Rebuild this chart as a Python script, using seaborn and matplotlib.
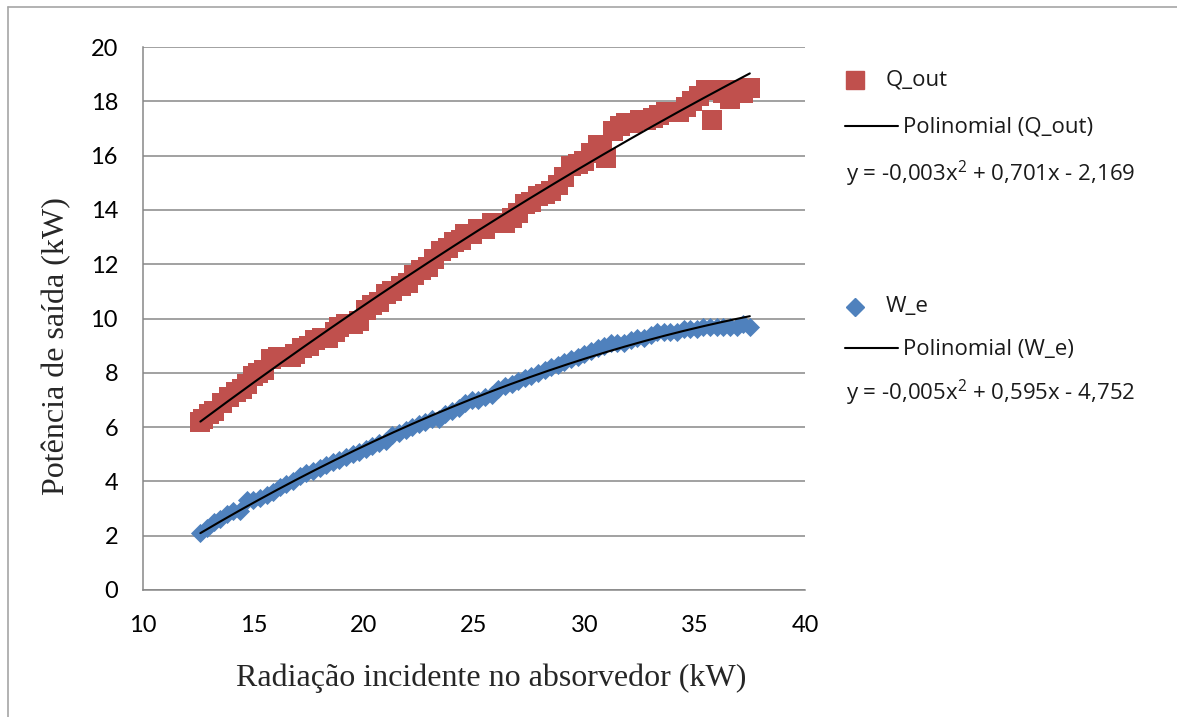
"""
plot.py
Potência de saída vs radiação incidente no absorvedor (Q_out e W_e, com ajuste polinomial).
"""

import matplotlib
matplotlib.use("Agg")
import matplotlib.pyplot as plt
from matplotlib.lines import Line2D
import seaborn as sns
import numpy as np

# Q_out (kW) vs radiação incidente (kW)
q_x = [12.6, 12.7, 13.0, 13.2, 13.6, 13.9, 14.2, 14.5, 14.7, 15.0, 15.2, 15.5,
       15.8, 16.1, 16.4, 16.7, 16.9, 17.2, 17.5, 17.8, 18.1, 18.4, 18.7, 18.9,
       19.2, 19.5, 19.8, 20.1, 20.4, 20.7, 21.0, 21.3, 21.7, 22.0, 22.3, 22.6,
       22.9, 23.2, 23.5, 23.8, 24.1, 24.4, 24.6, 24.9, 25.2, 25.5, 25.8, 26.1,
       26.4, 26.7, 27.0, 27.3, 27.6, 27.9, 28.2, 28.5, 28.8, 29.1, 29.4, 29.7,
       30.0, 30.3, 30.6, 30.8, 31.0, 31.3, 31.6, 31.9, 32.2, 32.5, 32.8, 33.1,
       33.4, 33.7, 34.0, 34.3, 34.6, 34.9, 35.2, 35.5, 35.8, 36.0, 36.3, 36.6,
       36.9, 37.2, 37.5]
q_y = [6.2, 6.3, 6.5, 6.6, 6.9, 7.1, 7.3, 7.4, 7.6, 7.9, 8.0, 8.1,
       8.5, 8.6, 8.6, 8.6, 8.7, 8.9, 9.0, 9.2, 9.3, 9.3, 9.5, 9.7,
       9.8, 9.8, 9.9, 10.3, 10.5, 10.6, 10.9, 11.0, 11.2, 11.3, 11.6, 11.8,
       11.9, 12.2, 12.5, 12.6, 12.8, 12.9, 13.1, 13.1, 13.3, 13.3, 13.5, 13.5,
       13.5, 13.7, 13.9, 14.2, 14.3, 14.5, 14.6, 14.7, 14.9, 15.2, 15.6, 15.7,
       15.8, 16.1, 16.4, 16.4, 15.9, 16.9, 17.1, 17.2, 17.2, 17.3, 17.3, 17.4,
       17.5, 17.6, 17.6, 17.6, 17.8, 18.0, 18.2, 18.4, 17.3, 18.4, 18.3, 18.1,
       18.4, 18.3, 18.5]

# W_e (kW) vs radiação incidente (kW)
w_x = [12.6, 12.9, 13.2, 13.5, 13.8, 14.1, 14.4, 14.7, 15.0, 15.3, 15.6, 15.9,
       16.2, 16.5, 16.8, 17.1, 17.4, 17.7, 18.0, 18.3, 18.6, 18.9, 19.2, 19.5,
       19.8, 20.1, 20.4, 20.7, 21.0, 21.3, 21.6, 21.9, 22.2, 22.5, 22.8, 23.1,
       23.4, 23.7, 24.0, 24.3, 24.6, 24.9, 25.2, 25.5, 25.8, 26.1, 26.4, 26.7,
       27.0, 27.3, 27.6, 27.9, 28.2, 28.5, 28.8, 29.1, 29.4, 29.7, 30.0, 30.3,
       30.6, 30.9, 31.2, 31.5, 31.8, 32.1, 32.4, 32.7, 33.0, 33.3, 33.6, 33.9,
       34.2, 34.5, 34.8, 35.1, 35.4, 35.7, 36.0, 36.3, 36.6, 36.9, 37.2, 37.5]
w_y = [2.1, 2.3, 2.5, 2.6, 2.8, 2.9, 2.9, 3.3, 3.3, 3.4, 3.5, 3.6,
       3.8, 3.9, 4.0, 4.2, 4.3, 4.4, 4.5, 4.6, 4.7, 4.8, 4.9, 5.0,
       5.1, 5.2, 5.3, 5.4, 5.5, 5.7, 5.8, 5.9, 6.0, 6.1, 6.2, 6.3,
       6.3, 6.5, 6.6, 6.7, 6.9, 7.0, 7.0, 7.1, 7.2, 7.4, 7.5, 7.6,
       7.7, 7.8, 7.9, 8.0, 8.1, 8.2, 8.3, 8.4, 8.5, 8.6, 8.7, 8.8,
       8.9, 9.0, 9.1, 9.1, 9.1, 9.2, 9.3, 9.3, 9.4, 9.5, 9.5, 9.5,
       9.5, 9.6, 9.6, 9.6, 9.7, 9.7, 9.7, 9.7, 9.7, 9.7, 9.8, 9.7]

x_ticks = [10, 15, 20, 25, 30, 35, 40]
y_ticks = [0, 2, 4, 6, 8, 10, 12, 14, 16, 18, 20]

eq_q = r"y = -0,003x$^2$ + 0,701x - 2,169"
eq_w = r"y = -0,005x$^2$ + 0,595x - 4,752"

RED = "#C0504D"
BLUE = "#4F81BD"
GRID = "#878787"

W, H = 1177, 717


def px(x, y):
    """pixel position -> figure fraction"""
    return x / W, 1 - y / H


sns.set_style("white")
plt.rcParams["font.family"] = ["Lato", "DejaVu Sans"]
plt.rcParams["mathtext.fontset"] = "custom"
plt.rcParams["mathtext.rm"] = "Open Sans"
plt.rcParams["mathtext.it"] = "Open Sans"
plt.rcParams["mathtext.default"] = "rm"

fig = plt.figure(figsize=(W / 100, H / 100), dpi=100)
ax = fig.add_axes([143 / W, 1 - 590 / H, (805 - 143) / W, (590 - 47) / H])

sns.scatterplot(x=q_x, y=q_y, marker="s", s=200, color=RED, linewidth=0,
                ax=ax, zorder=3)
sns.scatterplot(x=w_x, y=w_y, marker="D", s=95, color=BLUE, linewidth=0,
                ax=ax, zorder=4)

# trend lines (2nd order)
for xs, ys in [(q_x, q_y), (w_x, w_y)]:
    coef = np.polyfit(xs, ys, 2)
    xx = np.linspace(min(xs), max(xs), 200)
    sns.lineplot(x=xx, y=np.polyval(coef, xx), color="black", linewidth=1.5,
                 ax=ax, zorder=5)

ax.set_xlim(10, 40)
ax.set_ylim(0, 20)
ax.set_xticks(x_ticks)
ax.set_yticks(y_ticks)
ax.yaxis.grid(True, color=GRID, linewidth=1.1)
ax.set_axisbelow(True)
for side in ["top", "right"]:
    ax.spines[side].set_visible(False)
for side in ["left", "bottom"]:
    ax.spines[side].set_color(GRID)
    ax.spines[side].set_linewidth(1.1)
ax.tick_params(axis="both", direction="out", length=5, width=1.1, color=GRID,
               pad=13, labelsize=17, labelcolor="black")

ax.set_xlabel("Radiação incidente no absorvedor (kW)", family="Liberation Serif",
              fontsize=23, labelpad=20)
ax.set_ylabel("Potência de saída (kW)", family="Liberation Serif",
              fontsize=23, labelpad=14)
ax.xaxis.label.set_x(0.526)
ax.yaxis.label.set_y(0.45)

# legend, drawn by hand like the spreadsheet one
leg_font = dict(fontsize=16, color="#1a1a1a", va="center", ha="left",
                family="Open Sans")
fig.add_artist(Line2D([px(855, 80)[0]], [px(855, 80)[1]], marker="s",
                      markersize=12.5, color=RED, linestyle="none"))
fig.text(*px(886, 80), "Q_out", **leg_font)
fig.add_artist(Line2D([px(845, 0)[0], px(898, 0)[0]], [px(0, 126)[1]] * 2,
                      color="black", linewidth=1.5))
fig.text(*px(903, 127), "Polinomial (Q_out)", **leg_font)
fig.text(*px(846, 174), eq_q, **leg_font)

fig.add_artist(Line2D([px(855, 307)[0]], [px(855, 307)[1]], marker="D",
                      markersize=9.5, color=BLUE, linestyle="none"))
fig.text(*px(886, 307), "W_e", **leg_font)
fig.add_artist(Line2D([px(845, 0)[0], px(898, 0)[0]], [px(0, 348)[1]] * 2,
                      color="black", linewidth=1.5))
fig.text(*px(903, 349), "Polinomial (W_e)", **leg_font)
fig.text(*px(846, 393), eq_w, **leg_font)

# chart area frame
fig.add_artist(Line2D([px(8, 0)[0], 1], [px(0, 7)[1]] * 2, color="#a6a6a6", lw=1.2))
fig.add_artist(Line2D([px(8, 0)[0]] * 2, [px(0, 7)[1], 0], color="#a6a6a6", lw=1.2))

fig.savefig("out.png", dpi=100)
